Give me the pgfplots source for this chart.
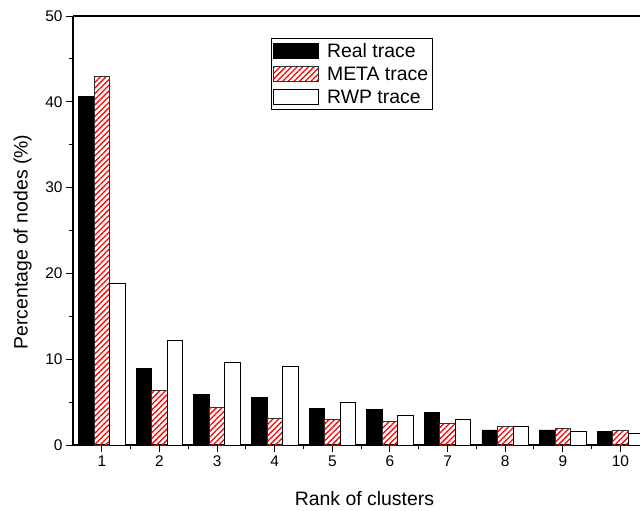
\documentclass[border=0pt]{standalone}
\usepackage{fontspec}
\setmainfont{Liberation Sans}
\usepackage{pgfplots}
\pgfplotsset{compat=1.18}
\usetikzlibrary{patterns.meta}
\begin{document}
\begin{tikzpicture}
\begin{axis}[
  at={(0,0)}, anchor=south west,
  scale only axis, width=567bp, height=429bp,
  xmin=0.5, xmax=10.34, ymin=0, ymax=50,
  axis x line*=box, axis y line*=left,
  axis line style={-, line width=1.1bp},
  ybar=0pt, bar width=15.5bp,
  xtick={1,...,10}, minor x tick num=1,
  ytick={0,10,...,50}, minor y tick num=1,
  xtick pos=bottom,
  tick align=outside,
  major tick length=7bp, minor tick length=4bp,
  every tick/.style={black, line width=1bp},
  /pgf/number format/assume math mode=true,
  tick label style={font=\fontsize{15.5}{15.5}\selectfont},
  xlabel={Rank of clusters},
  ylabel={Percentage of nodes (\%)},
  label style={font=\fontsize{19.5}{19.5}\selectfont},
  xlabel style={at={(axis description cs:0.514,-0.125)}, anchor=center},
  ylabel style={at={(axis description cs:-0.089,0.473)}, anchor=center, rotate=0},
  legend style={at={(axis description cs:0.349,0.949)}, anchor=north west,
    draw=black, line width=0.8bp, font=\fontsize{19.5}{19.5}\selectfont,
    inner xsep=2bp, inner ysep=3bp, row sep=4bp, cells={anchor=west}},
  legend image code/.code={\draw[#1] (0bp,-7.5bp) rectangle (45bp,7.5bp);
    \path (51bp,0bp);},
  clip=true,
]
\addplot[fill=black, draw=black, line width=0.8bp] coordinates {
 (1,40.6) (2,8.9) (3,5.9) (4,5.5) (5,4.25) (6,4.1) (7,3.75) (8,1.75) (9,1.75) (10,1.6)};
\addplot[pattern={Lines[angle=45, distance=4bp, line width=1.3bp]}, pattern color=red, draw=black!80, line width=0.8bp] coordinates {
 (1,43.0) (2,6.35) (3,4.35) (4,3.15) (5,2.95) (6,2.75) (7,2.55) (8,2.15) (9,1.95) (10,1.75)};
\addplot[fill=white, draw=black, line width=0.8bp] coordinates {
 (1,18.8) (2,12.2) (3,9.6) (4,9.2) (5,4.95) (6,3.4) (7,3.0) (8,2.15) (9,1.55) (10,1.38)};
\legend{Real trace, META trace, RWP trace}
\end{axis}
\pgfresetboundingbox
\path[use as bounding box] (-73bp,-66bp) rectangle (567bp,445bp);
\end{tikzpicture}
\end{document}
